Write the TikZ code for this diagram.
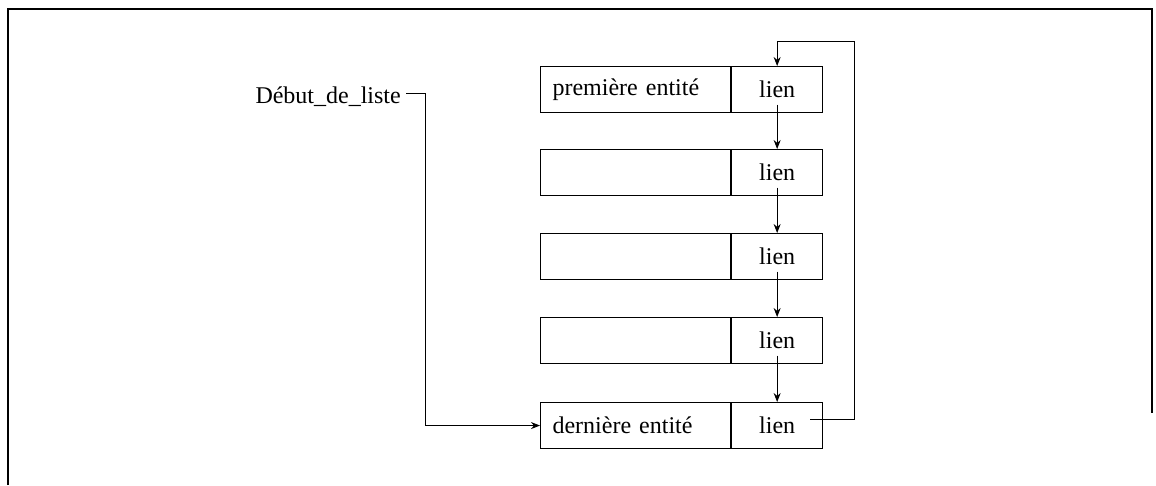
\documentclass[tikz,border=0pt]{standalone}
\usepackage{fontspec}
\setmainfont{Liberation Serif}
\usetikzlibrary{arrows.meta}
\begin{document}
\begin{tikzpicture}[x=1pt,y=-1pt,
  cell/.style={draw,line width=1.1pt,inner sep=0pt,minimum height=46pt,font=\fontsize{24}{28}\selectfont},
  ent/.style={cell,minimum width=190pt,text width=166pt,align=left,inner xsep=12pt},
  lnk/.style={cell,minimum width=91pt},
  conn/.style={line width=0.9pt,-{Stealth[length=9pt,width=7pt]}},
  plain/.style={line width=0.9pt}]
\useasboundingbox (0,0) rectangle (1156,485);
% frame
\draw[line width=1.2pt] (8,485) -- (8,9) -- (1152,9) -- (1152,413);
% boxes
\node[ent,anchor=north west] (e1) at (540,66) {première entité};
\node[lnk,anchor=west] (l1) at (e1.east) {lien};
\node[ent,anchor=north west] (e2) at (540,149) {};
\node[lnk,anchor=west] (l2) at (e2.east) {lien};
\node[ent,anchor=north west] (e3) at (540,233) {};
\node[lnk,anchor=west] (l3) at (e3.east) {lien};
\node[ent,anchor=north west] (e4) at (540,317) {};
\node[lnk,anchor=west] (l4) at (e4.east) {lien};
\node[ent,anchor=north west] (e5) at (540,402) {dernière entité};
\node[lnk,anchor=west] (l5) at (e5.east) {lien};
% chain arrows
\draw[conn] ([yshift=-15pt]l1.center) -- (l2.north);
\draw[conn] ([yshift=-15pt]l2.center) -- (l3.north);
\draw[conn] ([yshift=-15pt]l3.center) -- (l4.north);
\draw[conn] ([yshift=-15pt]l4.center) -- (l5.north);
% loop back
\coordinate (ls) at ([xshift=-13pt,yshift=6pt]l5.east);
\coordinate (lr) at (854,0);
\coordinate (lt) at (0,41);
\draw[conn] (ls) -- (ls -| lr) -- (lr |- lt) -- (lt -| l1.north) -- (l1.north);
% début de liste
\node[anchor=east,inner sep=0pt,font=\fontsize{24}{28}\selectfont] (deb) at (401,97) {Début\_de\_liste};
\coordinate (dv) at (425,0);
\coordinate (dh) at (0,93);
\draw[plain] ([xshift=5pt]deb.east |- dh) -- (dv |- dh) -- (dv |- e5.west);
\draw[conn] (dv |- e5.west) -- (e5.west);
\end{tikzpicture}
\end{document}
